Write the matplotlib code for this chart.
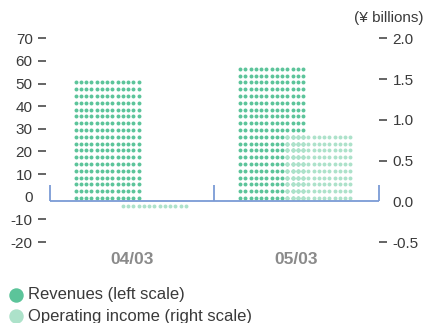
import numpy as np
import matplotlib
matplotlib.use("Agg")
import matplotlib.pyplot as plt
from matplotlib.lines import Line2D

# Fiscal periods and values (¥ billions)
periods = ["04/03", "05/03"]
revenues = [51, 57]                # left scale
operating_income = [-0.06, 0.8]    # right scale

left_ticks = [-20, -10, 0, 10, 20, 30, 40, 50, 60, 70]
right_ticks = [-0.5, 0.0, 0.5, 1.0, 1.5, 2.0]
right_tick_labels = ["-0.5", "0.0", "0.5", "1.0", "1.5", "2.0"]

REV_COLOR = "#5cc49a"
OPI_COLOR = "#ade2ca"
FRAME_COLOR = "#7b9bd5"
TEXT_COLOR = "#3a3a3a"
PERIOD_COLOR = "#8a8a8a"

plt.rcParams["font.family"] = ["Liberation Sans", "DejaVu Sans"]
FS = 11

W, H, DPI = 426, 323, 100
fig = plt.figure(figsize=(W / DPI, H / DPI), dpi=DPI)
ax_w, ax_h = 328.7, 203.7
ax_l = fig.add_axes([50 / W, 81 / H, ax_w / W, ax_h / H])
ax_r = ax_l.twinx()

ax_l.set_xlim(0, 2)
ax_l.set_ylim(-20, 70)
ax_r.set_ylim(-0.5, 2.0)

for a in (ax_l, ax_r):
    for s in a.spines.values():
        s.set_visible(False)
    a.patch.set_visible(False)

# dot-matrix columns: pixel geometry converted to data units
px_x = 2 / ax_w
n_cols = 13
col_step = 5.25 * px_x
row_step_px = 6.8
first_row_px = 3.3
first_neg_row_px = 4.5
dot_size = 8.0


def dot_bar(ax, center, value, ppu, base, color, z):
    cols = center + (np.arange(n_cols) - (n_cols - 1) / 2) * col_step
    rows = []
    k = 0
    if value >= base:
        while base + (first_row_px + row_step_px * k) / ppu <= value:
            rows.append(base + (first_row_px + row_step_px * k) / ppu)
            k += 1
    else:
        while base - (first_neg_row_px + row_step_px * k) / ppu >= value:
            rows.append(base - (first_neg_row_px + row_step_px * k) / ppu)
            k += 1
    xx, yy = np.meshgrid(cols, rows)
    ax.scatter(xx.ravel(), yy.ravel(), s=dot_size, color=color,
               linewidths=0, zorder=z, clip_on=False)


ppu_l = ax_h / 90.0
ppu_r = ax_h / 2.5
# shared baseline sits at zero on the right scale
base_l = -20 + 0.5 / 2.5 * 90
group_centers = [0.5, 1.5]
rev_offset = -0.152
opi_offset = rev_offset + 9 * col_step   # shares the revenue dot grid
for gc, rv, oi in zip(group_centers, revenues, operating_income):
    dot_bar(ax_l, gc + rev_offset, rv, ppu_l, base_l, REV_COLOR, 2)
    dot_bar(ax_r, gc + opi_offset, oi, ppu_r, 0.0, OPI_COLOR, 3)

# baseline frame with separators
tick_h = 16 / ppu_r
ax_r.plot([0, 2], [0, 0], color=FRAME_COLOR, lw=1.3, zorder=4, clip_on=False,
          solid_capstyle="butt")
for xv in [0, 1, 2]:
    ax_r.plot([xv, xv], [0, tick_h], color=FRAME_COLOR, lw=1.3, zorder=4,
              clip_on=False, solid_capstyle="butt")

# y axes
ax_l.set_yticks(left_ticks)
ax_l.set_yticklabels([str(t) for t in left_ticks])
ax_l.spines["left"].set_position(("outward", 3))
ax_l.tick_params(axis="y", direction="out", length=6, width=1.1,
                 color=TEXT_COLOR, labelcolor=TEXT_COLOR, labelsize=FS, pad=3.5)
ax_r.set_yticks(right_ticks)
ax_r.set_yticklabels(right_tick_labels)
ax_r.tick_params(axis="y", direction="out", length=6, width=1.1,
                 color=TEXT_COLOR, labelcolor=TEXT_COLOR, labelsize=FS, pad=4)
for tick, v in zip(ax_l.yaxis.get_major_ticks(), left_ticks):
    if v == 0:
        tick.tick1line.set_visible(False)
for tick, v in zip(ax_r.yaxis.get_major_ticks(), right_ticks):
    if v == 0:
        tick.tick2line.set_visible(False)

# period labels
ax_l.set_xticks(group_centers)
ax_l.set_xticklabels(periods, fontweight="bold", color=PERIOD_COLOR)
ax_l.tick_params(axis="x", length=0, labelsize=12.5, pad=7.5)

fig.text(423 / W, 1 - 18 / H, "(¥ billions)", ha="right", va="center",
         fontsize=FS, color=TEXT_COLOR)

# legend
legend_items = [("Revenues (left scale)", REV_COLOR, 294.5),
                ("Operating income (right scale)", OPI_COLOR, 316)]
for label, col, ypx in legend_items:
    fig.add_artist(Line2D([16 / W], [1 - ypx / H], marker="o", markersize=9.4,
                          color=col, linestyle="none",
                          transform=fig.transFigure))
    fig.text(28 / W, 1 - ypx / H, label, ha="left", va="center",
             fontsize=12, color=TEXT_COLOR)

fig.savefig("out.png", dpi=DPI)
